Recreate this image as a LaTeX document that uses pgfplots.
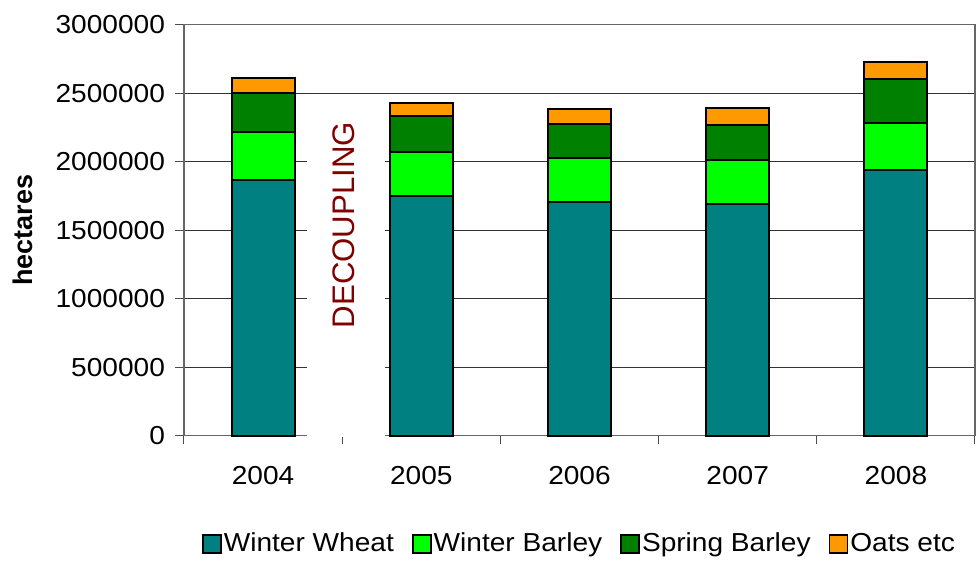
\documentclass[border=0pt]{standalone}
\usepackage{fontspec}
\setmainfont[FakeStretch=1.08]{Liberation Sans}
\newfontfamily\plainsans{Liberation Sans}
\usepackage{pgfplots}
\pgfplotsset{compat=1.18}
\usepackage{pgfplotstable}

\definecolor{wheat}{HTML}{008080}
\definecolor{wbarley}{HTML}{00FF00}
\definecolor{sbarley}{HTML}{008000}
\definecolor{oats}{HTML}{FF9900}
\definecolor{decred}{HTML}{800000}

% cereal areas in hectares, one row per harvest year
\pgfplotstableread{
x year  wwheat  wbarley sbarley oats
0 2004  1865000 352000  288000  109000
1 2005  1748000 323000  266000  92000
2 2006  1707000 321000  245000  115000
3 2007  1690000 321000  255000  126000
4 2008  1938000 345000  317000  128000
}\areas

\pgfplotsset{
  legbox/.style={legend image code/.code={
    \draw[##1, line width=0.9pt] (0pt,-4.5pt) rectangle (9pt,4.5pt);}},
}

\begin{document}
\begin{tikzpicture}
\useasboundingbox (-92pt,-63.15pt) rectangle (397pt,217.85pt);
\begin{axis}[
  at={(0,0)}, anchor=south west,
  scale only axis, width=395.5pt, height=205.5pt,
  clip=false,
  ybar stacked, bar width=31.5pt,
  xmin=-0.5, xmax=4.5, ymin=0, ymax=3000000,
  xtick={0,...,4},
  xticklabels={2004,2005,2006,2007,2008},
  major x tick style={draw=none},
  minor xtick={-0.5,0.5,...,4.5},
  xtick pos=bottom, ytick pos=left,
  minor tick length=4pt,
  major tick length=4.5pt,
  tick align=outside,
  tick style={black!70, line width=0.5pt},
  ytick={0,500000,...,3000000},
  ymajorgrids,
  grid style={black!80, line width=0.5pt},
  axis line style={black!60, line width=0.6pt},
  scaled y ticks=false,
  yticklabel style={/pgf/number format/fixed, /pgf/number format/1000 sep={},
    xshift=-1.5pt},
  xticklabel style={yshift=-7.5pt},
  /pgf/number format/assume math mode=true,
  tick label style={font=\fontsize{13}{15}\selectfont},
  ylabel={hectares},
  ylabel style={at={(axis description cs:-0.2042,0.5)}, anchor=center,
    font=\plainsans\bfseries\fontsize{13.5}{16}\selectfont},
  legend style={at={(axis description cs:0.5,-0.2628)}, anchor=center,
    draw=none, fill=none, legend columns=4, inner sep=0pt,
    /tikz/every even column/.append style={column sep=8pt},
    nodes={inner xsep=1pt, inner ysep=0pt},
    font=\fontsize{13}{15}\selectfont},
  every axis plot/.append style={draw=black, line width=1pt},
]
% text box marking the policy change between the first two harvests
\fill[white] (axis cs:0.276,-8000) rectangle (axis cs:0.768,2380000);

\addplot[fill=wheat, legbox] table[x=x, y=wwheat] {\areas};
\addlegendentry{Winter Wheat}
\addplot[fill=wbarley, legbox] table[x=x, y=wbarley] {\areas};
\addlegendentry{Winter Barley}
\addplot[fill=sbarley, legbox] table[x=x, y=sbarley] {\areas};
\addlegendentry{Spring Barley}
\addplot[fill=oats, legbox] table[x=x, y=oats] {\areas};
\addlegendentry{Oats etc}
\end{axis}
\node[rotate=90, color=decred, anchor=center,
      font=\plainsans\fontsize{15.6}{18}\selectfont]
  at (80pt,105.35pt) {DECOUPLING};
\end{tikzpicture}
\end{document}
